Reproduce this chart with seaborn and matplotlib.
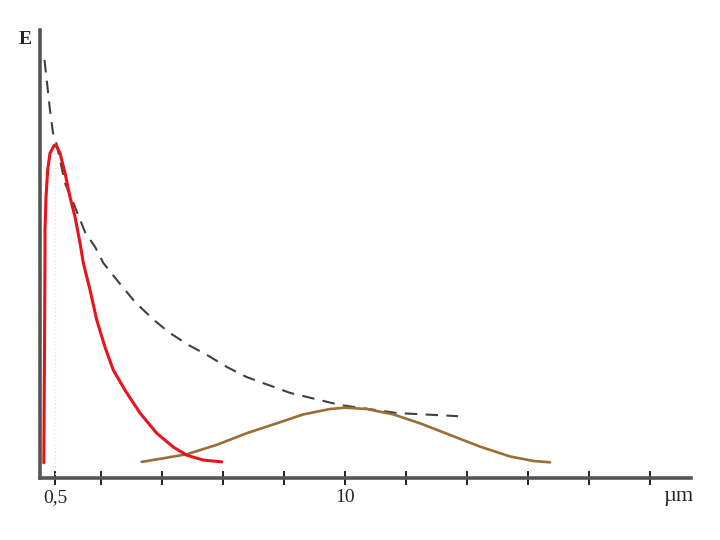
import numpy as np
import pandas as pd
import seaborn as sns
import matplotlib.pyplot as plt

# red curve (x in um, E arbitrary units)
red_x = [0.125, 0.138, 0.151, 0.164, 0.164, 0.197, 0.252, 0.328, 0.469, 0.557, 0.656, 0.820,
         0.984, 1.148, 1.311, 1.420, 1.639, 1.859, 2.131, 2.403, 2.787, 3.279, 3.826,
         4.370, 4.810, 5.354, 5.957]
red_e = [3.4, 17.4, 33.0, 50.9, 55.4, 62.7, 68.8, 72.5, 74.3, 73.9, 72.5, 68.1,
         62.7, 58.3, 52.5, 48.0, 42.0, 35.3, 29.2, 24.1, 19.6, 14.5, 10.0,
         6.9, 5.1, 4.0, 3.6]

# brown curve
brown_x = [3.334, 4.043, 4.810, 5.793, 6.777, 7.761, 8.633, 9.508, 10.0, 10.711, 11.584,
           12.459, 13.443, 14.426, 15.410, 16.174, 16.721]
brown_e = [3.6, 4.4, 5.3, 7.4, 10.0, 12.2, 14.2, 15.4, 15.7, 15.4, 14.2,
           12.2, 9.6, 7.0, 4.8, 3.8, 3.5]

# dashed envelope
dash_x = [0.148, 0.328, 0.426, 0.492, 0.820, 1.148, 1.475, 1.803, 2.075, 2.567, 3.115,
          3.662, 4.207, 4.862, 5.466, 6.121, 6.787, 8.197, 9.836, 11.705, 13.705]
dash_e = [93.3, 82.1, 77.0, 76.1, 65.8, 60.5, 54.9, 51.6, 48.0, 43.8, 39.3,
          35.7, 32.6, 29.7, 27.5, 24.8, 22.5, 19.0, 16.3, 14.5, 13.8]

tick_pos = [0.5, 2, 4, 6, 8, 10, 12, 14, 16, 18, 20]
tick_lab = ["0,5", "", "", "", "", "10", "", "", "", "", ""]

sns.set_style("white")
plt.rcParams['font.family'] = ['Liberation Serif', 'DejaVu Serif']

fig = plt.figure(figsize=(7.2, 5.4), dpi=100)
ax = fig.add_axes([40 / 720, 62 / 540, 651 / 720, 448 / 540])

red = pd.DataFrame({"x": red_x, "E": red_e})
brown = pd.DataFrame({"x": brown_x, "E": brown_e})
dash = pd.DataFrame({"x": dash_x, "E": dash_e})

ax.plot([0.5, 0.5], [0, 73.9], color="#f3dede", lw=1, ls=":")
sns.lineplot(data=dash, x="x", y="E", ax=ax, sort=False, estimator=None,
             color="#404040", lw=1.5)
ax.lines[-1].set_dashes((6, 4))
sns.lineplot(data=brown, x="x", y="E", ax=ax, sort=False, estimator=None,
             color="#9a6e35", lw=1.9)
sns.lineplot(data=red, x="x", y="E", ax=ax, sort=False, estimator=None,
             color="#e8141c", lw=2.2)
for ln in ax.lines:
    ln.set_solid_joinstyle("round")
    ln.set_dash_joinstyle("round")

ax.set_xlim(0, 21.34)
ax.set_ylim(0, 100)
ax.set_xlabel("")
ax.set_ylabel("")
for s in ["top", "right"]:
    ax.spines[s].set_visible(False)
for s in ["left", "bottom"]:
    ax.spines[s].set_color("#555555")
    ax.spines[s].set_linewidth(2.6)
ax.set_xticks(tick_pos)
ax.set_xticklabels(tick_lab, fontsize=14)
ax.set_yticks([])
ax.tick_params(axis="x", bottom=True, direction="inout", length=10, width=1.4,
               color="#222222", pad=3)

fig.text(25 / 720, 1 - 40 / 540, "E", fontsize=14, fontweight="bold", ha="center", va="center")
fig.text(678 / 720, 1 - 497 / 540, "\u00b5m", fontsize=16, ha="center", va="center")

plt.savefig("out.png", dpi=100)
